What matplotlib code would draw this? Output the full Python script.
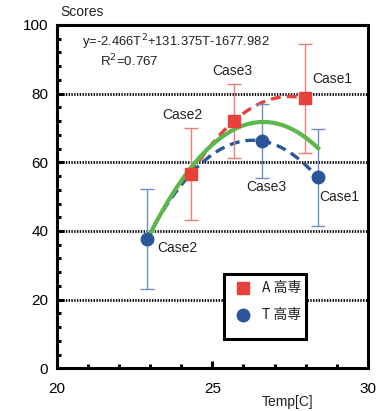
import numpy as np
import matplotlib
matplotlib.use("Agg")
import matplotlib.pyplot as plt
from matplotlib.ticker import MultipleLocator
from matplotlib.patches import Rectangle

plt.rcParams['font.family'] = ['Liberation Sans', 'Noto Sans CJK JP', 'DejaVu Sans']

# Data
a_temp = [24.30, 25.70, 27.98]
a_score = [56.6, 72.1, 78.6]
a_err = [13.5, 10.7, 15.8]
a_cases = ["Case2", "Case3", "Case1"]

t_temp = [22.89, 26.59, 28.38]
t_score = [37.7, 66.2, 55.6]
t_err = [14.6, 10.8, 14.2]
t_cases = ["Case2", "Case3", "Case1"]

fit_coef = [-2.466, 131.375, -1677.982]
fit_r2 = 0.767
fit_range = [22.89, 28.40]

legend_labels = ["A 高専", "T 高専"]

red = "#E8403A"
blue = "#2A5699"
green = "#5DB84A"
red_err = "#F07C78"
blue_err = "#6F8FC2"

fig = plt.figure(figsize=(3.76, 4.11), dpi=100)
ax = fig.add_axes([0.1508, 0.1039, 0.8279, 0.8353])

ax.set_xlim(20, 30)
ax.set_ylim(0, 100)

# grid lines
for gy in [20, 40, 60, 80]:
    ax.axhline(gy, color="black", lw=2.0, ls=(0, (0.5, 0.5)), zorder=1)

# dashed interpolating curves through each group's points
ca = np.polyfit(a_temp, a_score, 2)
xa = np.linspace(a_temp[0], a_temp[-1], 200)
ax.plot(xa, np.polyval(ca, xa), color=red, lw=2.4, ls=(0, (3.0, 1.8)), zorder=2)
ct = np.polyfit(t_temp, t_score, 2)
xt = np.linspace(t_temp[0], t_temp[-1], 200)
ax.plot(xt, np.polyval(ct, xt), color=blue, lw=2.4, ls=(0, (3.0, 1.8)), zorder=2)

# error bars
ax.errorbar(a_temp, a_score, yerr=a_err, fmt="none", ecolor=red_err, elinewidth=1.0,
            capsize=5, capthick=1.0, zorder=2)
ax.errorbar(t_temp, t_score, yerr=t_err, fmt="none", ecolor=blue_err, elinewidth=1.0,
            capsize=5, capthick=1.0, zorder=2)

# fitted curve
xf = np.linspace(fit_range[0], fit_range[1], 200)
ax.plot(xf, np.polyval(fit_coef, xf), color=green, lw=3.0, zorder=3)

# markers
ax.plot(a_temp, a_score, "s", color=red, ms=9, zorder=4, mec=red)
ax.plot(t_temp, t_score, "o", color=blue, ms=9, zorder=4, mec=blue)

# case labels
a_lab_pos = [(24.03, 73.8), (25.63, 86.6), (28.84, 84.3)]
t_lab_pos = [(26.74, 52.7), (29.09, 50.0), (23.87, 35.0)]
for txt, (lx, ly) in zip(a_cases, a_lab_pos):
    ax.text(lx, ly, txt, ha="center", va="center", fontsize=10, color="#222222", zorder=5)
t_order = [t_cases[1], t_cases[2], t_cases[0]]
for txt, (lx, ly) in zip(t_order, t_lab_pos):
    ax.text(lx, ly, txt, ha="center", va="center", fontsize=10, color="#222222", zorder=5)

# equation text
eq = "y=%.3fT$^{2}$+%.3fT%.3f" % (fit_coef[0], fit_coef[1], fit_coef[2])
fig.text(82/376, 1 - 42/411, eq, ha="left", va="center", fontsize=9.4, color="#222222")
fig.text(100/376, 1 - 61/411, "R$^{2}$=%.3f" % fit_r2, ha="left", va="center", fontsize=9.6,
         color="#222222")

# axis labels
fig.text(60/376, 1 - 12/411, "Scores", ha="left", va="center", fontsize=10, color="#222222")
fig.text(288/376, 1 - 402/411, "Temp[C]", ha="center", va="center", fontsize=10, color="#222222")

# spines and ticks
for s in ax.spines.values():
    s.set_linewidth(2.2)
ax.xaxis.set_major_locator(MultipleLocator(5))
ax.xaxis.set_minor_locator(MultipleLocator(1))
ax.yaxis.set_major_locator(MultipleLocator(20))
ax.yaxis.set_minor_locator(MultipleLocator(4))
ax.tick_params(which="both", direction="in", top=False, right=False, color="black")
ax.tick_params(which="major", length=5, width=2.2, labelsize=11, pad=6)
ax.tick_params(which="minor", length=3, width=2.2)
ax.tick_params(axis="x", which="major", pad=10)

# legend (drawn manually to match the box layout)
ax.add_patch(Rectangle((0.5374, 0.0853), 0.2634, 0.1893, transform=ax.transAxes,
                       facecolor="white", edgecolor="black", lw=2.2, zorder=6))
leg_rows = [(0.2339, "s", red), (0.1553, "o", blue)]
for (ry, mk, col), lab in zip(leg_rows, legend_labels):
    ax.plot([0.5985], [ry], mk, color=col, ms=9, transform=ax.transAxes, zorder=7,
            clip_on=False)
    ax.text(0.6592, ry, lab, transform=ax.transAxes, ha="left", va="center", fontsize=10,
            family=["Noto Sans CJK JP"], color="#222222", zorder=7)

fig.savefig("out.png", dpi=100)
